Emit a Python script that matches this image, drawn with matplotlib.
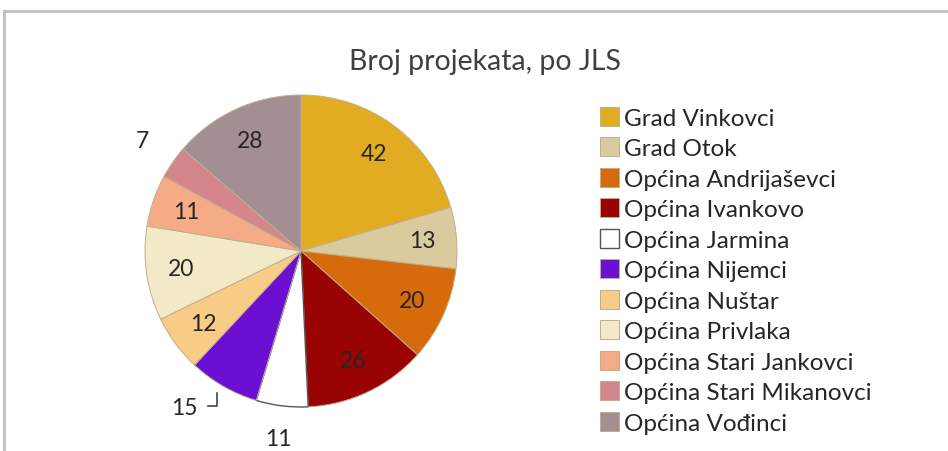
import matplotlib
matplotlib.use("Agg")
import matplotlib.pyplot as plt
import numpy as np
from matplotlib.patches import Rectangle

# podaci
jls = ["Grad Vinkovci", "Grad Otok", "Općina Andrijaševci", "Općina Ivankovo",
       "Općina Jarmina", "Općina Nijemci", "Općina Nuštar", "Općina Privlaka",
       "Općina Stari Jankovci", "Općina Stari Mikanovci", "Općina Vođinci"]
broj = [42, 13, 20, 26, 11, 15, 12, 20, 11, 7, 28]
boje = ["#E2AC22", "#D9CB9E", "#D66B0C", "#990303", "#FFFFFF", "#6B0FD3",
        "#F8CC86", "#F2E9C9", "#F6AB87", "#D4868C", "#A38F92"]

W, H = 948, 452
fig = plt.figure(figsize=(W / 100, H / 100), dpi=100)
plt.rcParams["font.family"] = ["Lato", "DejaVu Sans"]

# okvir grafikona (obrezan screenshot)
fig.patches.append(Rectangle((4 / W, -0.1), 1.2, 1 - 12 / H + 0.1, transform=fig.transFigure,
                             fill=False, ec="#c4c4c4", lw=2.2))

cx, cy, r = 301, 252, 156
ax = fig.add_axes([(cx - r) / W, (H - cy - r) / H, 2 * r / W, 2 * r / H])

wedges, _ = ax.pie(broj, colors=boje, startangle=90, counterclock=False, radius=1,
                   wedgeprops=dict(ec="#bfae8c", lw=0.7))
wedges[4].set_edgecolor("#555555")
wedges[4].set_linewidth(1.0)
ax.set_xlim(-1, 1)
ax.set_ylim(-1, 1)
ax.set_aspect("equal")
ax.axis("off")

FS = 16.5
# oznake podataka
for i, (w, v) in enumerate(zip(wedges, broj)):
    mid = np.deg2rad((w.theta1 + w.theta2) / 2)
    if i == 5:
        # oznaka s linijom
        a = np.deg2rad(-126.8)
        lx, ly = 1.25 * np.cos(a), 1.25 * np.sin(a)
        ex, ey = 1.06 * np.cos(np.deg2rad(-120.5)), 1.06 * np.sin(np.deg2rad(-120.5))
        ax.plot([lx + 0.15, ex, ex], [ly + 0.01, ly + 0.01, ey], color="#333333", lw=1.1, clip_on=False)
        ax.text(lx, ly, str(v), ha="center", va="center", fontsize=FS, color="#262626")
        continue
    rr = {4: 1.21, 9: 1.24}.get(i, 0.78)
    ax.text(rr * np.cos(mid), rr * np.sin(mid), str(v), ha="center", va="center",
            fontsize=FS, color="#262626")

fig.text(485 / W, 1 - 62 / H, "Broj projekata, po JLS", ha="center", va="center",
         fontsize=20.5, color="#404040")

leg = fig.legend(wedges, jls, loc="upper left", bbox_to_anchor=(600 / W, 1 - 108 / H),
                 frameon=False, fontsize=17.5, handlelength=0.8, handleheight=0.8,
                 handletextpad=0.2, labelspacing=0.36, borderpad=0, borderaxespad=0,
                 labelcolor="#262626")

plt.savefig("out.png", dpi=100)
